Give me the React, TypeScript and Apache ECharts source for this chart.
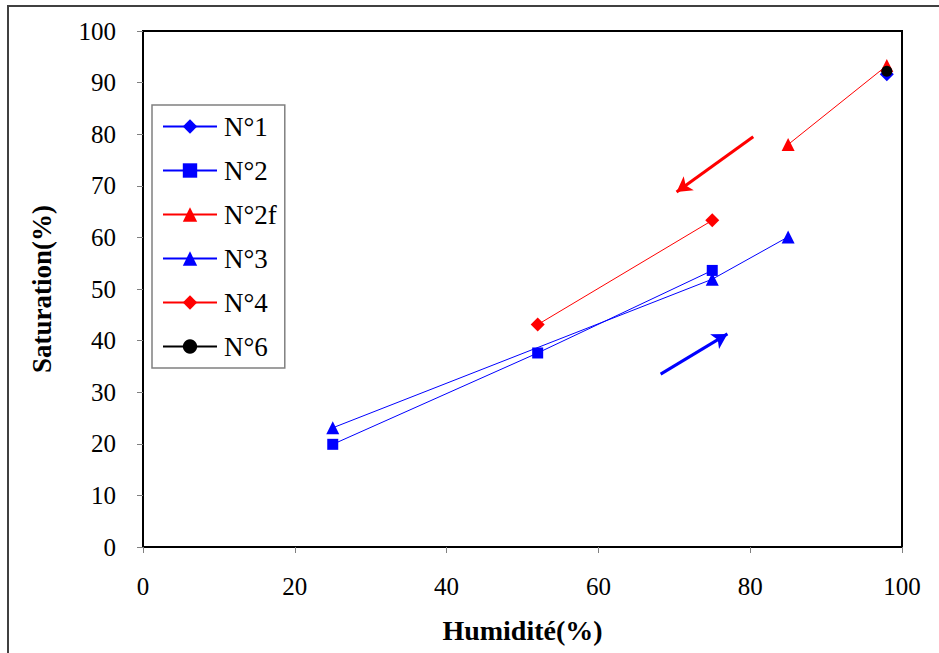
import React, { useEffect, useRef } from "react";
import * as echarts from "echarts";

const xTicks = [0, 20, 40, 60, 80, 100];
const n1: [number, number][] = [[98, 91.6]];
const n2: [number, number][] = [[25, 19.9], [52, 37.6], [75, 53.6]];
const n2f: [number, number][] = [[85, 78], [98, 93.3]];
const n3: [number, number][] = [[25, 23.1], [75, 51.9], [85, 60.1]];
const n4: [number, number][] = [[52, 43.1], [75, 63.3]];
const n6: [number, number][] = [[98, 92.2]];
const redArrow: [number, number][] = [[80.4, 79.5], [70.3, 68.8]];
const blueArrow: [number, number][] = [[68.2, 33.5], [77, 41.3]];

const seriesNames = ["N°1", "N°2", "N°2f", "N°3", "N°4", "N°6"];

const FONT = "'Liberation Serif', 'Times New Roman', serif";

function lineSeries(name: string, data: [number, number][], color: string, symbol: string, size: number) {
  return {
    name,
    type: "line",
    data,
    symbol,
    symbolSize: size,
    showAllSymbol: true,
    itemStyle: { color },
    lineStyle: { color, width: 1 },
    emphasis: { disabled: true },
  };
}

function arrowSeries(name: string, pts: [number, number][], color: string) {
  return {
    name,
    type: "line",
    data: [],
    markLine: {
      silent: true,
      symbol: ["none", "arrow"],
      symbolSize: [13, 15],
      label: { show: false },
      lineStyle: { color, width: 3, type: "solid" },
      data: [[{ coord: pts[0] }, { coord: pts[1] }]],
    },
  };
}

export default function App() {
  const ref = useRef<HTMLDivElement>(null);
  useEffect(() => {
    const chart = echarts.init(ref.current!, null, { renderer: "svg" });
    chart.setOption({
      animation: false,
      backgroundColor: "#fff",
      textStyle: { fontFamily: FONT },
      grid: { left: 143, top: 31, right: 37, bottom: 106, show: true, borderColor: "#000", borderWidth: 2, backgroundColor: "transparent" },
      xAxis: {
        type: "value",
        min: 0,
        max: 100,
        interval: 20,
        name: "Humidité(%)",
        nameLocation: "middle",
        nameGap: 69,
        nameTextStyle: { fontFamily: FONT, fontWeight: "bold", fontSize: 28, color: "#000" },
        axisLine: { show: true, lineStyle: { color: "#000", width: 2 } },
        axisTick: { show: true, inside: false, length: 6, lineStyle: { color: "#808080", width: 1 } },
        axisLabel: { fontFamily: FONT, fontSize: 25, color: "#000", margin: 27 },
        splitLine: { show: false },
      },
      yAxis: {
        type: "value",
        min: 0,
        max: 100,
        interval: 10,
        name: "Saturation(%)",
        nameLocation: "middle",
        nameGap: 88,
        nameTextStyle: { fontFamily: FONT, fontWeight: "bold", fontSize: 27, color: "#000" },
        axisLine: { show: true, lineStyle: { color: "#000", width: 2 } },
        axisTick: { show: true, inside: false, length: 6, lineStyle: { color: "#808080", width: 1 } },
        axisLabel: { fontFamily: FONT, fontSize: 25, color: "#000", margin: 27 },
        splitLine: { show: false },
      },
      legend: {
        data: seriesNames,
        orient: "vertical",
        left: 152,
        top: 105,
        padding: [8, 8, 8, 10],
        itemWidth: 54,
        itemHeight: 18,
        itemGap: 17,
        borderColor: "#808080",
        borderWidth: 1.5,
        backgroundColor: "#fff",
        selectedMode: false,
        textStyle: { fontFamily: FONT, fontSize: 27, color: "#000", padding: [0, 0, 0, 2] },
      },
      graphic: [
        {
          type: "rect",
          shape: { x: 8, y: 6, width: 1200, height: 1200 },
          style: { fill: "none", stroke: "#404040", lineWidth: 2 },
          silent: true,
          z: 100,
        },
      ],
      series: [
        lineSeries("N°1", n1, "#0000ff", "diamond", 14),
        lineSeries("N°2", n2, "#0000ff", "rect", 11),
        lineSeries("N°2f", n2f, "#ff0000", "triangle", 13),
        lineSeries("N°3", n3, "#0000ff", "triangle", 13),
        lineSeries("N°4", n4, "#ff0000", "diamond", 14),
        lineSeries("N°6", n6, "#000000", "circle", 11),
        arrowSeries("arrowRed", redArrow, "#ff0000"),
        arrowSeries("arrowBlue", blueArrow, "#0000ff"),
      ],
    });
    return () => chart.dispose();
  }, []);
  return <div ref={ref} style={{ position: "fixed", left: 0, top: 0, width: 939, height: 653 }} />;
}
